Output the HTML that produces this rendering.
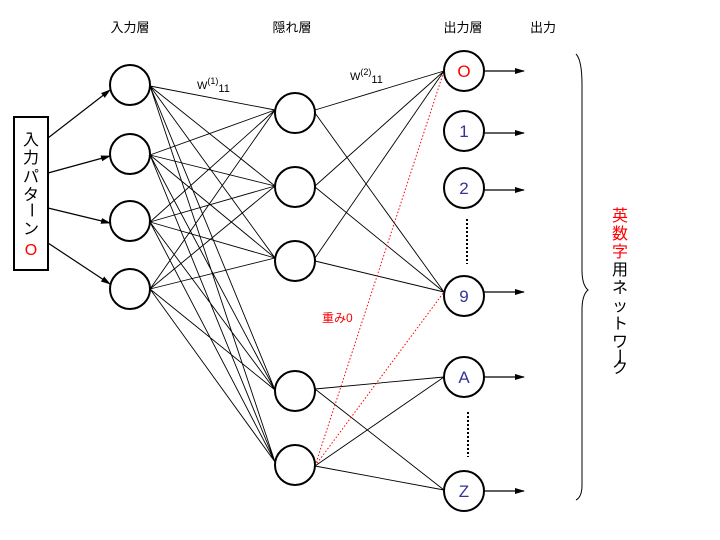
<!DOCTYPE html>
<html><head><meta charset="utf-8"><style>
body{margin:0;background:#fff}
svg{display:block;font-family:"Liberation Sans","Noto Sans CJK JP",sans-serif}
</style></head><body>
<svg width="720" height="540" viewBox="0 0 720 540" xmlns="http://www.w3.org/2000/svg">
<defs><marker id="a" markerWidth="10" markerHeight="8" refX="9" refY="4" orient="auto" markerUnits="userSpaceOnUse"><path d="M0,1 L10,4 L0,7z" fill="#000"/></marker></defs>
<g font-size="13" text-anchor="middle">
<text x="130" y="32">入力層</text><text x="292" y="32">隠れ層</text>
<text x="463" y="32">出力層</text><text x="543" y="32">出力</text>
</g>
<rect x="14" y="117" width="34" height="153" fill="none" stroke="#000" stroke-width="2"/>
<g font-size="16" text-anchor="middle">
<text x="31" y="145">入</text><text x="31" y="163">力</text><text x="31" y="182">パ</text><text x="31" y="200">タ</text>
<text x="31" y="215" transform="rotate(90 31 210)">ー</text>
<text x="31" y="234">ン</text>
</g>
<text x="31" y="255" font-size="16" fill="red" text-anchor="middle">O</text>
<g stroke="#000" stroke-width="1.2" marker-end="url(#a)">
<line x1="48" y1="138" x2="110" y2="90"/><line x1="48" y1="173" x2="110" y2="156"/>
<line x1="48" y1="208" x2="110" y2="223"/><line x1="48" y1="243" x2="110" y2="284"/>
<line x1="484" y1="71" x2="524" y2="71"/><line x1="484" y1="133" x2="524" y2="133"/>
<line x1="484" y1="190" x2="524" y2="190"/><line x1="484" y1="292" x2="524" y2="292"/>
<line x1="484" y1="377" x2="524" y2="377"/><line x1="484" y1="491" x2="524" y2="491"/>
</g>
<g stroke="#000" stroke-width="0.9">
<path d="M150,86L275,110M150,86L275,186M150,86L275,258M150,86L275,390M150,86L275,462
M150,155L275,110M150,155L275,186M150,155L275,258M150,155L275,390M150,155L275,462
M150,222L275,110M150,222L275,186M150,222L275,258M150,222L275,390M150,222L275,462
M150,289L275,110M150,289L275,186M150,289L275,258M150,289L275,390M150,289L275,462
M315,110L444,71M315,186L444,71M315,258L444,71
M315,113L444,292M315,187L444,292M315,261L444,292
M315,389L444,377M315,389L444,490M315,466L444,377M315,466L444,490"/>
</g>
<g stroke="red" stroke-width="1" stroke-dasharray="1.5,2">
<line x1="315" y1="466" x2="444" y2="71"/><line x1="315" y1="466" x2="444" y2="292"/>
</g>
<g fill="#fff" stroke="#000" stroke-width="2">
<circle cx="130" cy="85" r="20"/><circle cx="130" cy="154" r="20"/><circle cx="130" cy="221" r="20"/><circle cx="130" cy="289" r="20"/>
<circle cx="295" cy="113" r="20"/><circle cx="295" cy="187" r="20"/><circle cx="295" cy="261" r="20"/><circle cx="295" cy="391" r="20"/><circle cx="295" cy="465" r="20"/>
<circle cx="464" cy="71" r="20"/><circle cx="464" cy="131" r="20"/><circle cx="464" cy="188" r="20"/><circle cx="464" cy="296" r="20"/><circle cx="464" cy="377" r="20"/><circle cx="464" cy="491" r="20"/>
</g>
<g font-size="17" text-anchor="middle" fill="#33339a">
<text x="464" y="77" fill="red">O</text><text x="464" y="137">1</text><text x="464" y="194">2</text>
<text x="464" y="302">9</text><text x="464" y="383">A</text><text x="464" y="497">Z</text>
</g>
<g stroke="#000" stroke-width="2" stroke-dasharray="2,2">
<line x1="467" y1="219" x2="467" y2="264"/><line x1="468" y1="412" x2="468" y2="457"/>
</g>
<text x="197" y="89" font-size="11">W<tspan font-size="9" dy="-5">(1)</tspan><tspan dy="8">11</tspan></text>
<text x="350" y="80" font-size="11">W<tspan font-size="9" dy="-5">(2)</tspan><tspan dy="8">11</tspan></text>
<text x="322" y="322" font-size="12" fill="red">重み0</text>
<path d="M576,54 Q582,60 582,85 L582,270 Q582,285 588,290 Q582,295 582,310 L582,485 Q582,497 576,500" fill="none" stroke="#000" stroke-width="1"/>
<g font-size="16" text-anchor="middle">
<text x="620" y="221" fill="red">英</text><text x="620" y="239" fill="red">数</text><text x="620" y="257" fill="red">字</text>
<text x="620" y="275">用</text><text x="620" y="293">ネ</text><text x="620" y="311">ッ</text><text x="620" y="329">ト</text><text x="620" y="347">ワ</text>
<text x="620" y="362" transform="rotate(90 620 356)">ー</text>
<text x="620" y="373">ク</text>
</g>
</svg>
</body></html>
